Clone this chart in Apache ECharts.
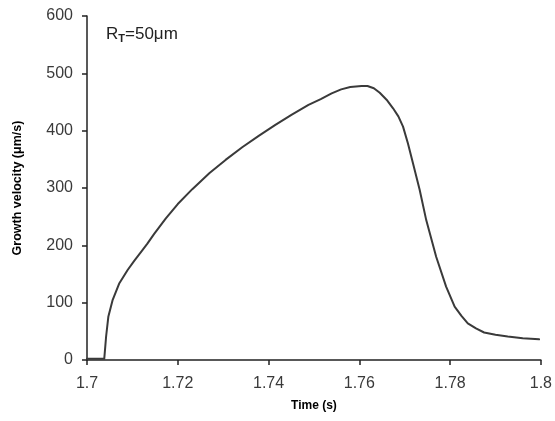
<!DOCTYPE html>
<html>
<head>
<meta charset="utf-8">
<script src="https://cdn.jsdelivr.net/npm/echarts@6/dist/echarts.min.js"></script>
<style>html,body{margin:0;padding:0;background:#fff}#c{width:555px;height:421px}</style>
</head>
<body>
<div id="c"></div>
<script>
var times = [1.700, 1.7038, 1.70399, 1.70421, 1.70471, 1.70566, 1.70713, 1.70895, 1.71040, 1.71188, 1.71330, 1.71480, 1.71737, 1.7200, 1.7232, 1.7270, 1.73053, 1.7342, 1.73783, 1.7415, 1.74513, 1.7488, 1.7515, 1.7539, 1.7560, 1.7580, 1.7605, 1.7618, 1.7632, 1.7645, 1.7660, 1.76743, 1.7686, 1.76963, 1.7707, 1.77182, 1.77329, 1.77474, 1.77693, 1.77912, 1.7810, 1.7825, 1.7839, 1.7857, 1.7875, 1.7900, 1.7927, 1.7960, 1.7996];
var velocity = [2, 2, 4, 41, 76, 105, 134, 157, 173, 188, 203, 220, 247, 272, 298, 326, 349, 371, 391, 410, 428, 445, 455, 465, 472, 476, 478, 478, 474, 466, 454, 439, 425, 407, 378, 343, 297, 244, 180, 128, 93, 77, 64, 55, 48, 44, 41, 38, 36];
var xTicks = {min: 1.7, max: 1.8, interval: 0.02};
var yTicks = {min: 0, max: 600, interval: 100};

var data = times.map(function (t, i) { return [t, velocity[i]]; });
var chart = echarts.init(document.getElementById('c'), null, {renderer: 'canvas'});
var font = 'Liberation Sans, Arial, sans-serif';
chart.setOption({
  animation: false,
  backgroundColor: '#fff',
  grid: {left: 87, right: 12, top: 16, bottom: 61},
  xAxis: {
    type: 'value', min: xTicks.min, max: xTicks.max, interval: xTicks.interval,
    name: 'Time (s)', nameLocation: 'middle', nameGap: 40,
    nameTextStyle: {fontFamily: font, fontWeight: 'bold', fontSize: 12, color: '#000'},
    axisLine: {lineStyle: {color: '#222', width: 1.5}},
    axisTick: {show: true, length: 5, lineStyle: {color: '#222', width: 1.5}},
    axisLabel: {fontFamily: font, fontSize: 16, color: '#3a3a3a', margin: 16},
    splitLine: {show: false}
  },
  yAxis: {
    type: 'value', min: yTicks.min, max: yTicks.max, interval: yTicks.interval,
    name: 'Growth velocity (\u03bcm/s)', nameLocation: 'middle', nameGap: 63,
    nameTextStyle: {fontFamily: font, fontWeight: 'bold', fontSize: 12.5, color: '#000'},
    axisLine: {show: true, lineStyle: {color: '#222', width: 1.5}},
    axisTick: {show: true, length: 5, lineStyle: {color: '#222', width: 1.5}},
    axisLabel: {fontFamily: font, fontSize: 16, color: '#3a3a3a', margin: 14},
    splitLine: {show: false}
  },
  series: [{
    type: 'line', data: data, showSymbol: false, smooth: false,
    lineStyle: {color: '#3a3a3a', width: 2, join: 'round', cap: 'round'}
  }],
  graphic: [{
    type: 'text', left: 106, top: 26,
    style: {
      text: '{a|R}{s|T}{a|=50\u03bcm}',
      rich: {
        a: {fontFamily: font, fontSize: 17, fill: '#222'},
        s: {fontFamily: font, fontSize: 11, fill: '#222', fontWeight: 'bold', padding: [8, 0, 0, 0]}
      }
    }
  }]
});
</script>
</body>
</html>
